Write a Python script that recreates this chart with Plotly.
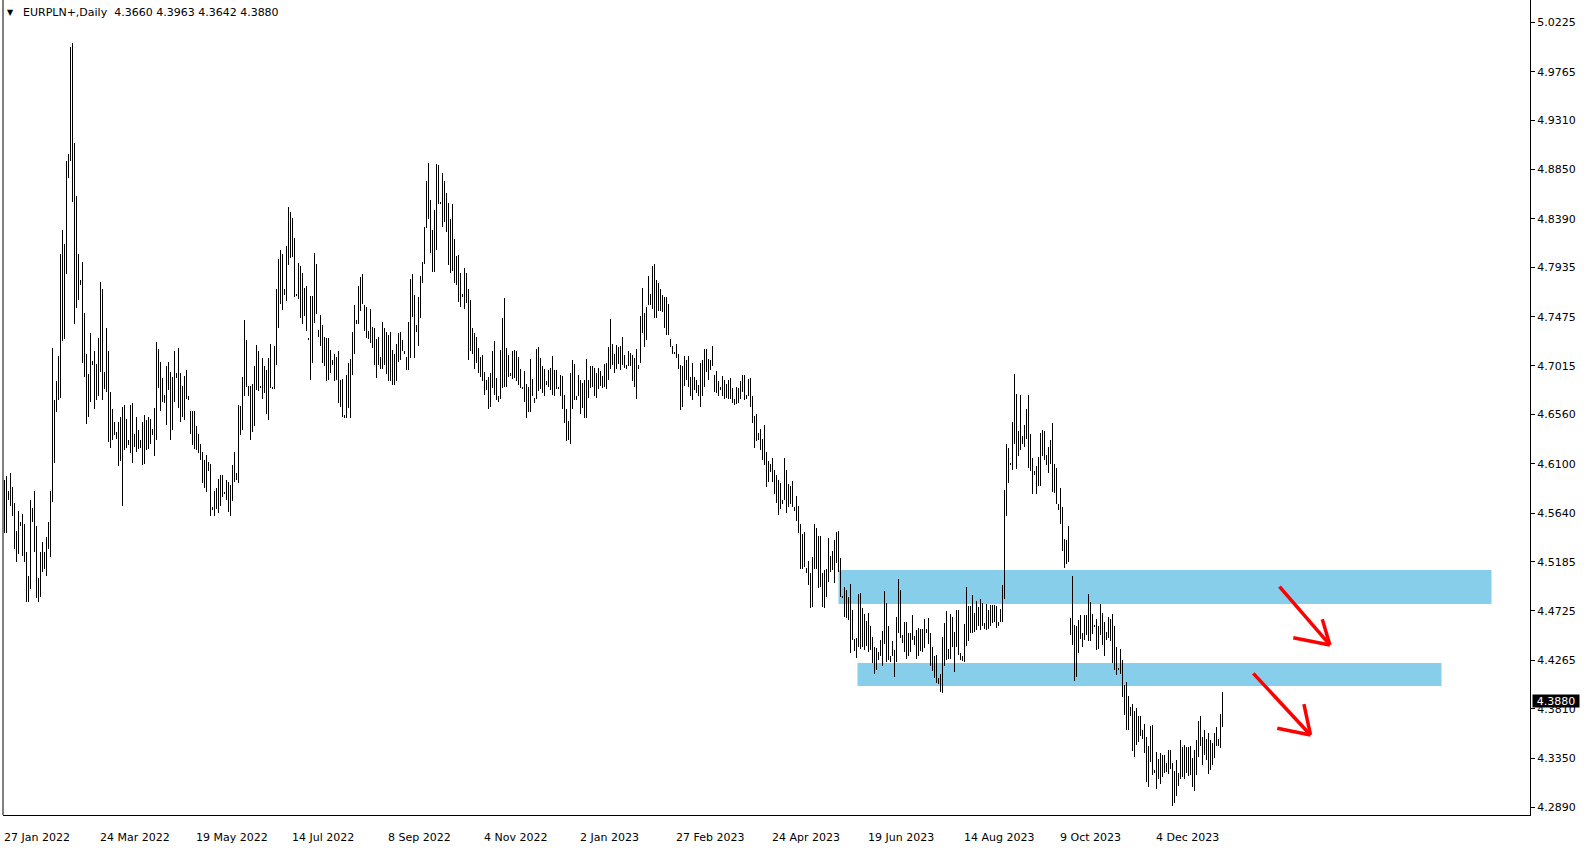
import plotly.graph_objects as go

# ---------------- data (daily bar highs / lows, EURPLN+) ----------------
highs_a = [4.595, 4.599, 4.585, 4.601, 4.588, 4.573, 4.547, 4.566, 4.556, 4.563,
           4.554, 4.528, 4.505, 4.576, 4.569, 4.585, 4.552, 4.503, 4.528, 4.537,
           4.528, 4.542, 4.556, 4.585, 4.718, 4.670, 4.687, 4.711, 4.806, 4.829,
           4.815, 4.893, 4.900, 5.000, 5.003, 4.910, 4.860, 4.806, 4.782, 4.799,
           4.751, 4.713, 4.694, 4.732, 4.706, 4.715, 4.703, 4.728, 4.780, 4.773,
           4.696, 4.737, 4.715, 4.677, 4.661, 4.649, 4.640, 4.649, 4.654, 4.663,
           4.665, 4.652, 4.632, 4.665]
lows_a = [4.545, 4.545, 4.576, 4.571, 4.561, 4.530, 4.518, 4.526, 4.552, 4.524,
          4.518, 4.481, 4.481, 4.493, 4.556, 4.528, 4.485, 4.481, 4.486, 4.509,
          4.512, 4.505, 4.530, 4.523, 4.574, 4.611, 4.658, 4.670, 4.672, 4.725,
          4.727, 4.787, 4.877, 4.893, 4.855, 4.741, 4.756, 4.763, 4.777, 4.704,
          4.691, 4.647, 4.654, 4.668, 4.702, 4.661, 4.670, 4.673, 4.696, 4.670,
          4.680, 4.677, 4.630, 4.625, 4.632, 4.637, 4.633, 4.608, 4.613, 4.571,
          4.623, 4.625, 4.628, 4.620]

highs_b = [4.667, 4.638, 4.654, 4.642, 4.632, 4.649, 4.656, 4.651, 4.654, 4.652,
           4.643, 4.662, 4.724, 4.717, 4.705, 4.690, 4.674, 4.701, 4.705, 4.696,
           4.691, 4.715, 4.695, 4.718, 4.695, 4.683, 4.692, 4.698, 4.673, 4.659,
           4.659, 4.659, 4.645, 4.638, 4.629, 4.621, 4.614, 4.618, 4.612, 4.610,
           4.570, 4.585, 4.587, 4.596, 4.600, 4.600, 4.584, 4.595, 4.593, 4.590,
           4.609, 4.621, 4.601, 4.665, 4.664, 4.691, 4.744, 4.726, 4.683, 4.683]
lows_b = [4.611, 4.626, 4.621, 4.624, 4.625, 4.609, 4.610, 4.623, 4.624, 4.629,
          4.637, 4.617, 4.632, 4.681, 4.659, 4.668, 4.667, 4.646, 4.679, 4.632,
          4.642, 4.668, 4.690, 4.662, 4.649, 4.654, 4.651, 4.671, 4.670, 4.638,
          4.628, 4.624, 4.623, 4.620, 4.614, 4.592, 4.587, 4.584, 4.603, 4.561,
          4.567, 4.561, 4.568, 4.564, 4.571, 4.579, 4.582, 4.576, 4.565, 4.561,
          4.575, 4.593, 4.595, 4.592, 4.637, 4.642, 4.673, 4.682, 4.673, 4.632]

highs_c = [4.685, 4.701, 4.721, 4.715, 4.683, 4.709, 4.701, 4.698, 4.709, 4.722,
           4.681, 4.720, 4.773, 4.801, 4.810, 4.806, 4.773, 4.814, 4.850, 4.845,
           4.840, 4.821, 4.769, 4.798, 4.795, 4.788, 4.774, 4.776, 4.728, 4.767,
           4.767, 4.807, 4.797, 4.735, 4.749, 4.740, 4.729, 4.728, 4.728, 4.716,
           4.707, 4.713, 4.710, 4.715, 4.688, 4.689, 4.656, 4.693, 4.704, 4.708,
           4.733, 4.758, 4.744, 4.776, 4.785, 4.787, 4.758, 4.757, 4.734, 4.755]
lows_c = [4.640, 4.645, 4.679, 4.678, 4.681, 4.671, 4.676, 4.657, 4.651, 4.681,
          4.680, 4.680, 4.702, 4.737, 4.759, 4.754, 4.768, 4.762, 4.796, 4.802,
          4.803, 4.766, 4.767, 4.764, 4.746, 4.741, 4.748, 4.734, 4.726, 4.688,
          4.704, 4.742, 4.750, 4.729, 4.720, 4.704, 4.701, 4.687, 4.688, 4.695,
          4.702, 4.687, 4.688, 4.667, 4.663, 4.654, 4.653, 4.653, 4.662, 4.653,
          4.693, 4.713, 4.741, 4.741, 4.753, 4.759, 4.734, 4.728, 4.727, 4.723]

highs_d = [4.738, 4.737, 4.727, 4.729, 4.710, 4.743, 4.737, 4.733, 4.730, 4.733,
           4.716, 4.713, 4.722, 4.732, 4.733, 4.726, 4.715, 4.710, 4.743, 4.783,
           4.787, 4.768, 4.740, 4.766, 4.786, 4.799, 4.831, 4.874, 4.891, 4.857,
           4.829, 4.847, 4.890, 4.889, 4.854, 4.882, 4.874, 4.863, 4.854, 4.839,
           4.853, 4.820, 4.804, 4.805, 4.788, 4.769, 4.793, 4.788, 4.773, 4.763,
           4.737, 4.732, 4.729, 4.718, 4.710, 4.712, 4.696, 4.688, 4.691, 4.695]
lows_d = [4.718, 4.702, 4.690, 4.702, 4.699, 4.699, 4.702, 4.694, 4.687, 4.687,
          4.684, 4.684, 4.687, 4.705, 4.707, 4.715, 4.713, 4.698, 4.698, 4.709,
          4.747, 4.709, 4.733, 4.720, 4.746, 4.779, 4.797, 4.830, 4.839, 4.807,
          4.789, 4.789, 4.810, 4.853, 4.853, 4.831, 4.836, 4.827, 4.796, 4.788,
          4.790, 4.779, 4.777, 4.761, 4.757, 4.766, 4.755, 4.760, 4.707, 4.715,
          4.713, 4.699, 4.704, 4.695, 4.691, 4.687, 4.674, 4.679, 4.661, 4.663]

highs_e = [4.715, 4.725, 4.690, 4.673, 4.716, 4.746, 4.765, 4.718, 4.712, 4.695,
           4.715, 4.716, 4.715, 4.710, 4.699, 4.682, 4.697, 4.685, 4.682, 4.708,
           4.689, 4.672, 4.717, 4.719, 4.709, 4.701, 4.699, 4.687, 4.698, 4.700,
           4.711, 4.698, 4.698, 4.682, 4.693, 4.692, 4.674, 4.661, 4.650, 4.695,
           4.707, 4.703, 4.673, 4.693, 4.688, 4.686, 4.688, 4.708, 4.688, 4.701,
           4.701, 4.700, 4.695, 4.700, 4.697, 4.692, 4.703, 4.704, 4.719, 4.745]
lows_e = [4.681, 4.674, 4.670, 4.668, 4.671, 4.681, 4.682, 4.682, 4.691, 4.692,
          4.689, 4.690, 4.687, 4.684, 4.681, 4.680, 4.668, 4.653, 4.658, 4.658,
          4.673, 4.667, 4.671, 4.678, 4.680, 4.676, 4.673, 4.684, 4.682, 4.679,
          4.674, 4.673, 4.680, 4.680, 4.673, 4.661, 4.648, 4.631, 4.632, 4.629,
          4.661, 4.670, 4.670, 4.673, 4.657, 4.662, 4.653, 4.653, 4.672, 4.681,
          4.682, 4.673, 4.672, 4.680, 4.683, 4.681, 4.682, 4.680, 4.688, 4.699]

highs_f = [4.722, 4.713, 4.721, 4.719, 4.720, 4.729, 4.712, 4.702, 4.715, 4.714,
           4.712, 4.709, 4.717, 4.702, 4.748, 4.774, 4.751, 4.757, 4.786, 4.769,
           4.795, 4.797, 4.782, 4.779, 4.773, 4.768, 4.766, 4.766, 4.759, 4.727,
           4.720, 4.714, 4.722, 4.713, 4.702, 4.701, 4.711, 4.707, 4.711, 4.691,
           4.704, 4.691, 4.688, 4.684, 4.704, 4.707, 4.717, 4.717, 4.708, 4.707,
           4.720, 4.693, 4.697, 4.687, 4.682, 4.692, 4.688, 4.685, 4.688, 4.690]
lows_f = [4.702, 4.695, 4.699, 4.703, 4.698, 4.702, 4.700, 4.699, 4.701, 4.701,
          4.687, 4.682, 4.671, 4.699, 4.704, 4.732, 4.719, 4.726, 4.758, 4.758,
          4.755, 4.746, 4.746, 4.753, 4.753, 4.752, 4.737, 4.730, 4.730, 4.719,
          4.713, 4.713, 4.709, 4.699, 4.660, 4.663, 4.683, 4.688, 4.682, 4.673,
          4.670, 4.679, 4.676, 4.673, 4.663, 4.673, 4.682, 4.696, 4.688, 4.698,
          4.701, 4.677, 4.676, 4.673, 4.679, 4.673, 4.671, 4.672, 4.671, 4.671]

highs_g = [4.681, 4.671, 4.682, 4.681, 4.687, 4.693, 4.693, 4.674, 4.689, 4.690,
           4.673, 4.655, 4.657, 4.639, 4.643, 4.633, 4.646, 4.621, 4.613, 4.610,
           4.615, 4.604, 4.600, 4.595, 4.592, 4.576, 4.615, 4.604, 4.591, 4.589,
           4.594, 4.570, 4.580, 4.571, 4.554, 4.544, 4.546, 4.513, 4.519, 4.508,
           4.523, 4.554, 4.550, 4.543, 4.543, 4.508, 4.511, 4.512, 4.541, 4.524,
           4.529, 4.539, 4.546, 4.547, 4.522, 4.486, 4.495, 4.492, 4.486, 4.498]
lows_g = [4.667, 4.665, 4.666, 4.667, 4.671, 4.677, 4.670, 4.671, 4.673, 4.663,
          4.648, 4.625, 4.631, 4.632, 4.623, 4.614, 4.609, 4.588, 4.593, 4.602,
          4.593, 4.582, 4.573, 4.562, 4.568, 4.572, 4.576, 4.564, 4.570, 4.572,
          4.570, 4.566, 4.557, 4.545, 4.512, 4.512, 4.514, 4.508, 4.497, 4.475,
          4.476, 4.512, 4.512, 4.494, 4.495, 4.476, 4.475, 4.486, 4.500, 4.509,
          4.511, 4.499, 4.517, 4.509, 4.486, 4.485, 4.467, 4.466, 4.464, 4.433]

highs_h = [4.473, 4.446, 4.447, 4.488, 4.489, 4.475, 4.470, 4.463, 4.471, 4.458,
           4.448, 4.439, 4.438, 4.434, 4.445, 4.454, 4.491, 4.480, 4.458, 4.430,
           4.444, 4.436, 4.467, 4.502, 4.492, 4.450, 4.462, 4.462, 4.452, 4.452,
           4.469, 4.449, 4.455, 4.457, 4.456, 4.456, 4.465, 4.456, 4.466, 4.452,
           4.439, 4.430, 4.431, 4.410, 4.414, 4.448, 4.461, 4.472, 4.437, 4.470,
           4.467, 4.453, 4.473, 4.473, 4.433, 4.430, 4.460, 4.495, 4.477, 4.477]
lows_h = [4.445, 4.435, 4.429, 4.439, 4.437, 4.439, 4.436, 4.440, 4.434, 4.436,
          4.424, 4.414, 4.417, 4.427, 4.430, 4.421, 4.442, 4.425, 4.427, 4.425,
          4.430, 4.411, 4.425, 4.452, 4.447, 4.443, 4.434, 4.428, 4.430, 4.434,
          4.445, 4.441, 4.428, 4.430, 4.435, 4.434, 4.438, 4.452, 4.442, 4.421,
          4.416, 4.410, 4.405, 4.404, 4.397, 4.396, 4.421, 4.427, 4.428, 4.428,
          4.439, 4.415, 4.439, 4.431, 4.427, 4.426, 4.425, 4.440, 4.444, 4.452]

highs_i = [4.487, 4.471, 4.482, 4.476, 4.484, 4.480, 4.461, 4.479, 4.473, 4.478,
           4.478, 4.478, 4.477, 4.462, 4.474, 4.497, 4.586, 4.629, 4.625, 4.610,
           4.649, 4.694, 4.675, 4.641, 4.674, 4.636, 4.646, 4.661, 4.674, 4.638,
           4.615, 4.603, 4.608, 4.616, 4.639, 4.642, 4.641, 4.618, 4.626, 4.632,
           4.648, 4.610, 4.606, 4.572, 4.587, 4.570, 4.540, 4.539, 4.552, 4.466,
           4.505, 4.459, 4.458, 4.464, 4.469, 4.452, 4.469, 4.469, 4.488, 4.481]
lows_i = [4.452, 4.453, 4.455, 4.458, 4.455, 4.458, 4.456, 4.455, 4.456, 4.458,
          4.461, 4.462, 4.457, 4.458, 4.462, 4.462, 4.484, 4.561, 4.592, 4.609,
          4.604, 4.629, 4.605, 4.617, 4.623, 4.629, 4.626, 4.633, 4.606, 4.603,
          4.582, 4.600, 4.582, 4.589, 4.589, 4.617, 4.614, 4.609, 4.601, 4.610,
          4.584, 4.583, 4.572, 4.567, 4.554, 4.529, 4.513, 4.516, 4.518, 4.450,
          4.441, 4.407, 4.411, 4.433, 4.446, 4.439, 4.445, 4.450, 4.444, 4.444]

highs_j = [4.470, 4.459, 4.465, 4.458, 4.479, 4.471, 4.462, 4.453, 4.467, 4.465,
           4.470, 4.458, 4.439, 4.419, 4.437, 4.427, 4.403, 4.406, 4.393, 4.383,
           4.386, 4.379, 4.382, 4.374, 4.374, 4.361, 4.367, 4.355, 4.346, 4.365,
           4.366, 4.324, 4.341, 4.334, 4.340, 4.338, 4.338, 4.330, 4.343, 4.343,
           4.330, 4.323, 4.333, 4.321, 4.352, 4.345, 4.347, 4.345, 4.345, 4.346,
           4.335, 4.343, 4.352, 4.370, 4.374, 4.355, 4.361, 4.353, 4.358, 4.352,
           4.349, 4.358, 4.364, 4.353, 4.376, 4.3963]
lows_j = [4.451, 4.458, 4.436, 4.437, 4.450, 4.441, 4.430, 4.445, 4.447, 4.444,
          4.424, 4.417, 4.413, 4.417, 4.414, 4.392, 4.375, 4.361, 4.361, 4.374,
          4.342, 4.336, 4.347, 4.350, 4.356, 4.353, 4.340, 4.313, 4.308, 4.331,
          4.319, 4.321, 4.306, 4.315, 4.311, 4.317, 4.321, 4.322, 4.320, 4.325,
          4.290, 4.293, 4.300, 4.309, 4.315, 4.317, 4.315, 4.321, 4.318, 4.319,
          4.308, 4.304, 4.319, 4.336, 4.346, 4.329, 4.338, 4.333, 4.320, 4.324,
          4.329, 4.335, 4.346, 4.346, 4.344, 4.3642]

last_open = 4.3660
last_close = 4.3880

date_labels = ["27 Jan 2022", "24 Mar 2022", "19 May 2022", "14 Jul 2022", "8 Sep 2022",
               "4 Nov 2022", "2 Jan 2023", "27 Feb 2023", "24 Apr 2023", "19 Jun 2023",
               "14 Aug 2023", "9 Oct 2023", "4 Dec 2023"]
date_label_bars = [0, 48, 96, 144, 192, 240, 288, 336, 384, 432, 480, 528, 576]

price_ticks = [5.0225, 4.9765, 4.9310, 4.8850, 4.8390, 4.7935, 4.7475, 4.7015, 4.6560,
               4.6100, 4.5640, 4.5185, 4.4725, 4.4265, 4.3810, 4.3350, 4.2890]
price_tick_labels = ["5.0225", "4.9765", "4.9310", "4.8850", "4.8390", "4.7935", "4.7475",
                     "4.7015", "4.6560", "4.6100", "4.5640", "4.5185", "4.4725", "4.4265",
                     "4.3810", "4.3350", "4.2890"]

# support / resistance zones (bar index from-to, price from-to)
zone_x0 = [417.0, 426.5]
zone_x1 = [743.5, 718.5]
zone_y0 = [4.4790, 4.4024]
zone_y1 = [4.5108, 4.4239]

# hand drawn arrows: (start, tip, head-left, head-up) in (bar, price)
arrow_start = [(637.5, 4.4952), (624.4, 4.4142)]
arrow_tip = [(662.7, 4.4407), (653.0, 4.3566)]
arrow_head_a = [(644.4, 4.4475), (636.4, 4.3628)]
arrow_head_b = [(658.9, 4.4647), (649.7, 4.3855)]

# ---------------- build ----------------
highs = highs_a + highs_b + highs_c + highs_d + highs_e + highs_f + highs_g + highs_h + highs_i + highs_j
lows = lows_a + lows_b + lows_c + lows_d + lows_e + lows_f + lows_g + lows_h + lows_i + lows_j
n = min(len(highs), len(lows))
highs, lows = highs[:n], lows[:n]
idx = list(range(n))

FONT = "DejaVu Sans"
PLOT_W, PLOT_H = 1527, 815
Y_LO, Y_HI = 4.2818, 5.0435

fig = go.Figure()

fig.add_trace(go.Bar(
    x=idx, y=[h - l for h, l in zip(highs, lows)], base=lows,
    width=0.5, marker=dict(color="black", line=dict(width=0)),
    hoverinfo="skip", showlegend=False))

shapes = []
for x0, x1, y0, y1 in zip(zone_x0, zone_x1, zone_y0, zone_y1):
    shapes.append(dict(type="rect", xref="x", yref="y", x0=x0, x1=x1, y0=y0, y1=y1,
                       fillcolor="#87CEEB", line=dict(width=0), layer="below"))
for s, t, a, b in zip(arrow_start, arrow_tip, arrow_head_a, arrow_head_b):
    for p in (s, a, b):
        shapes.append(dict(type="line", xref="x", yref="y", x0=p[0], y0=p[1], x1=t[0], y1=t[1],
                           line=dict(color="#FF0000", width=3.5), layer="above"))
# left frame line
shapes.append(dict(type="line", xref="paper", yref="paper", x0=0, x1=0, y0=0, y1=1,
                   line=dict(color="black", width=1)))

annotations = []
for lab, b in zip(date_labels, date_label_bars):
    annotations.append(dict(x=b, xref="x", y=-22 / PLOT_H, yref="paper", text=lab,
                            showarrow=False, xanchor="left", yanchor="middle", xshift=-3,
                            font=dict(family=FONT, size=11, color="black")))
header = "EURPLN+,Daily  %.4f %.4f %.4f %.4f" % (last_open, highs[-1], lows[-1], last_close)
annotations.append(dict(x=2 / PLOT_W, xref="paper", y=1 - 12 / PLOT_H, yref="paper", text="▼",
                        showarrow=False, xanchor="left", yanchor="middle",
                        font=dict(family=FONT, size=8, color="black")))
annotations.append(dict(x=18 / PLOT_W, xref="paper", y=1 - 12 / PLOT_H, yref="paper", text=header,
                        showarrow=False, xanchor="left", yanchor="middle",
                        font=dict(family=FONT, size=11, color="black")))
annotations.append(dict(x=1, xref="paper", y=last_close, yref="y", text="%.4f" % last_close,
                        showarrow=False, xanchor="left", yanchor="middle", xshift=2,
                        bgcolor="black", borderpad=0, width=46, height=12,
                        font=dict(family=FONT, size=11, color="white")))

fig.update_layout(
    width=1587, height=850,
    margin=dict(l=3, r=57, t=0, b=35, pad=0),
    paper_bgcolor="white", plot_bgcolor="white",
    showlegend=False, bargap=0,
    shapes=shapes, annotations=annotations,
)
fig.update_xaxes(range=[-0.75, -0.75 + PLOT_W / 2], showgrid=False, zeroline=False,
                 showticklabels=False, ticks="", showline=True, linecolor="black", linewidth=1,
                 fixedrange=True)
fig.update_yaxes(range=[Y_LO, Y_HI], side="right", tickvals=price_ticks, ticktext=price_tick_labels,
                 ticks="outside", ticklen=4, tickcolor="black", showline=True, linecolor="black",
                 linewidth=1, showgrid=False, zeroline=False, fixedrange=True,
                 tickfont=dict(family=FONT, size=11, color="black"))

fig.write_html("out.html", config={"displayModeBar": False},
               post_script="document.body.style.margin='0px';document.body.style.overflow='hidden';")
